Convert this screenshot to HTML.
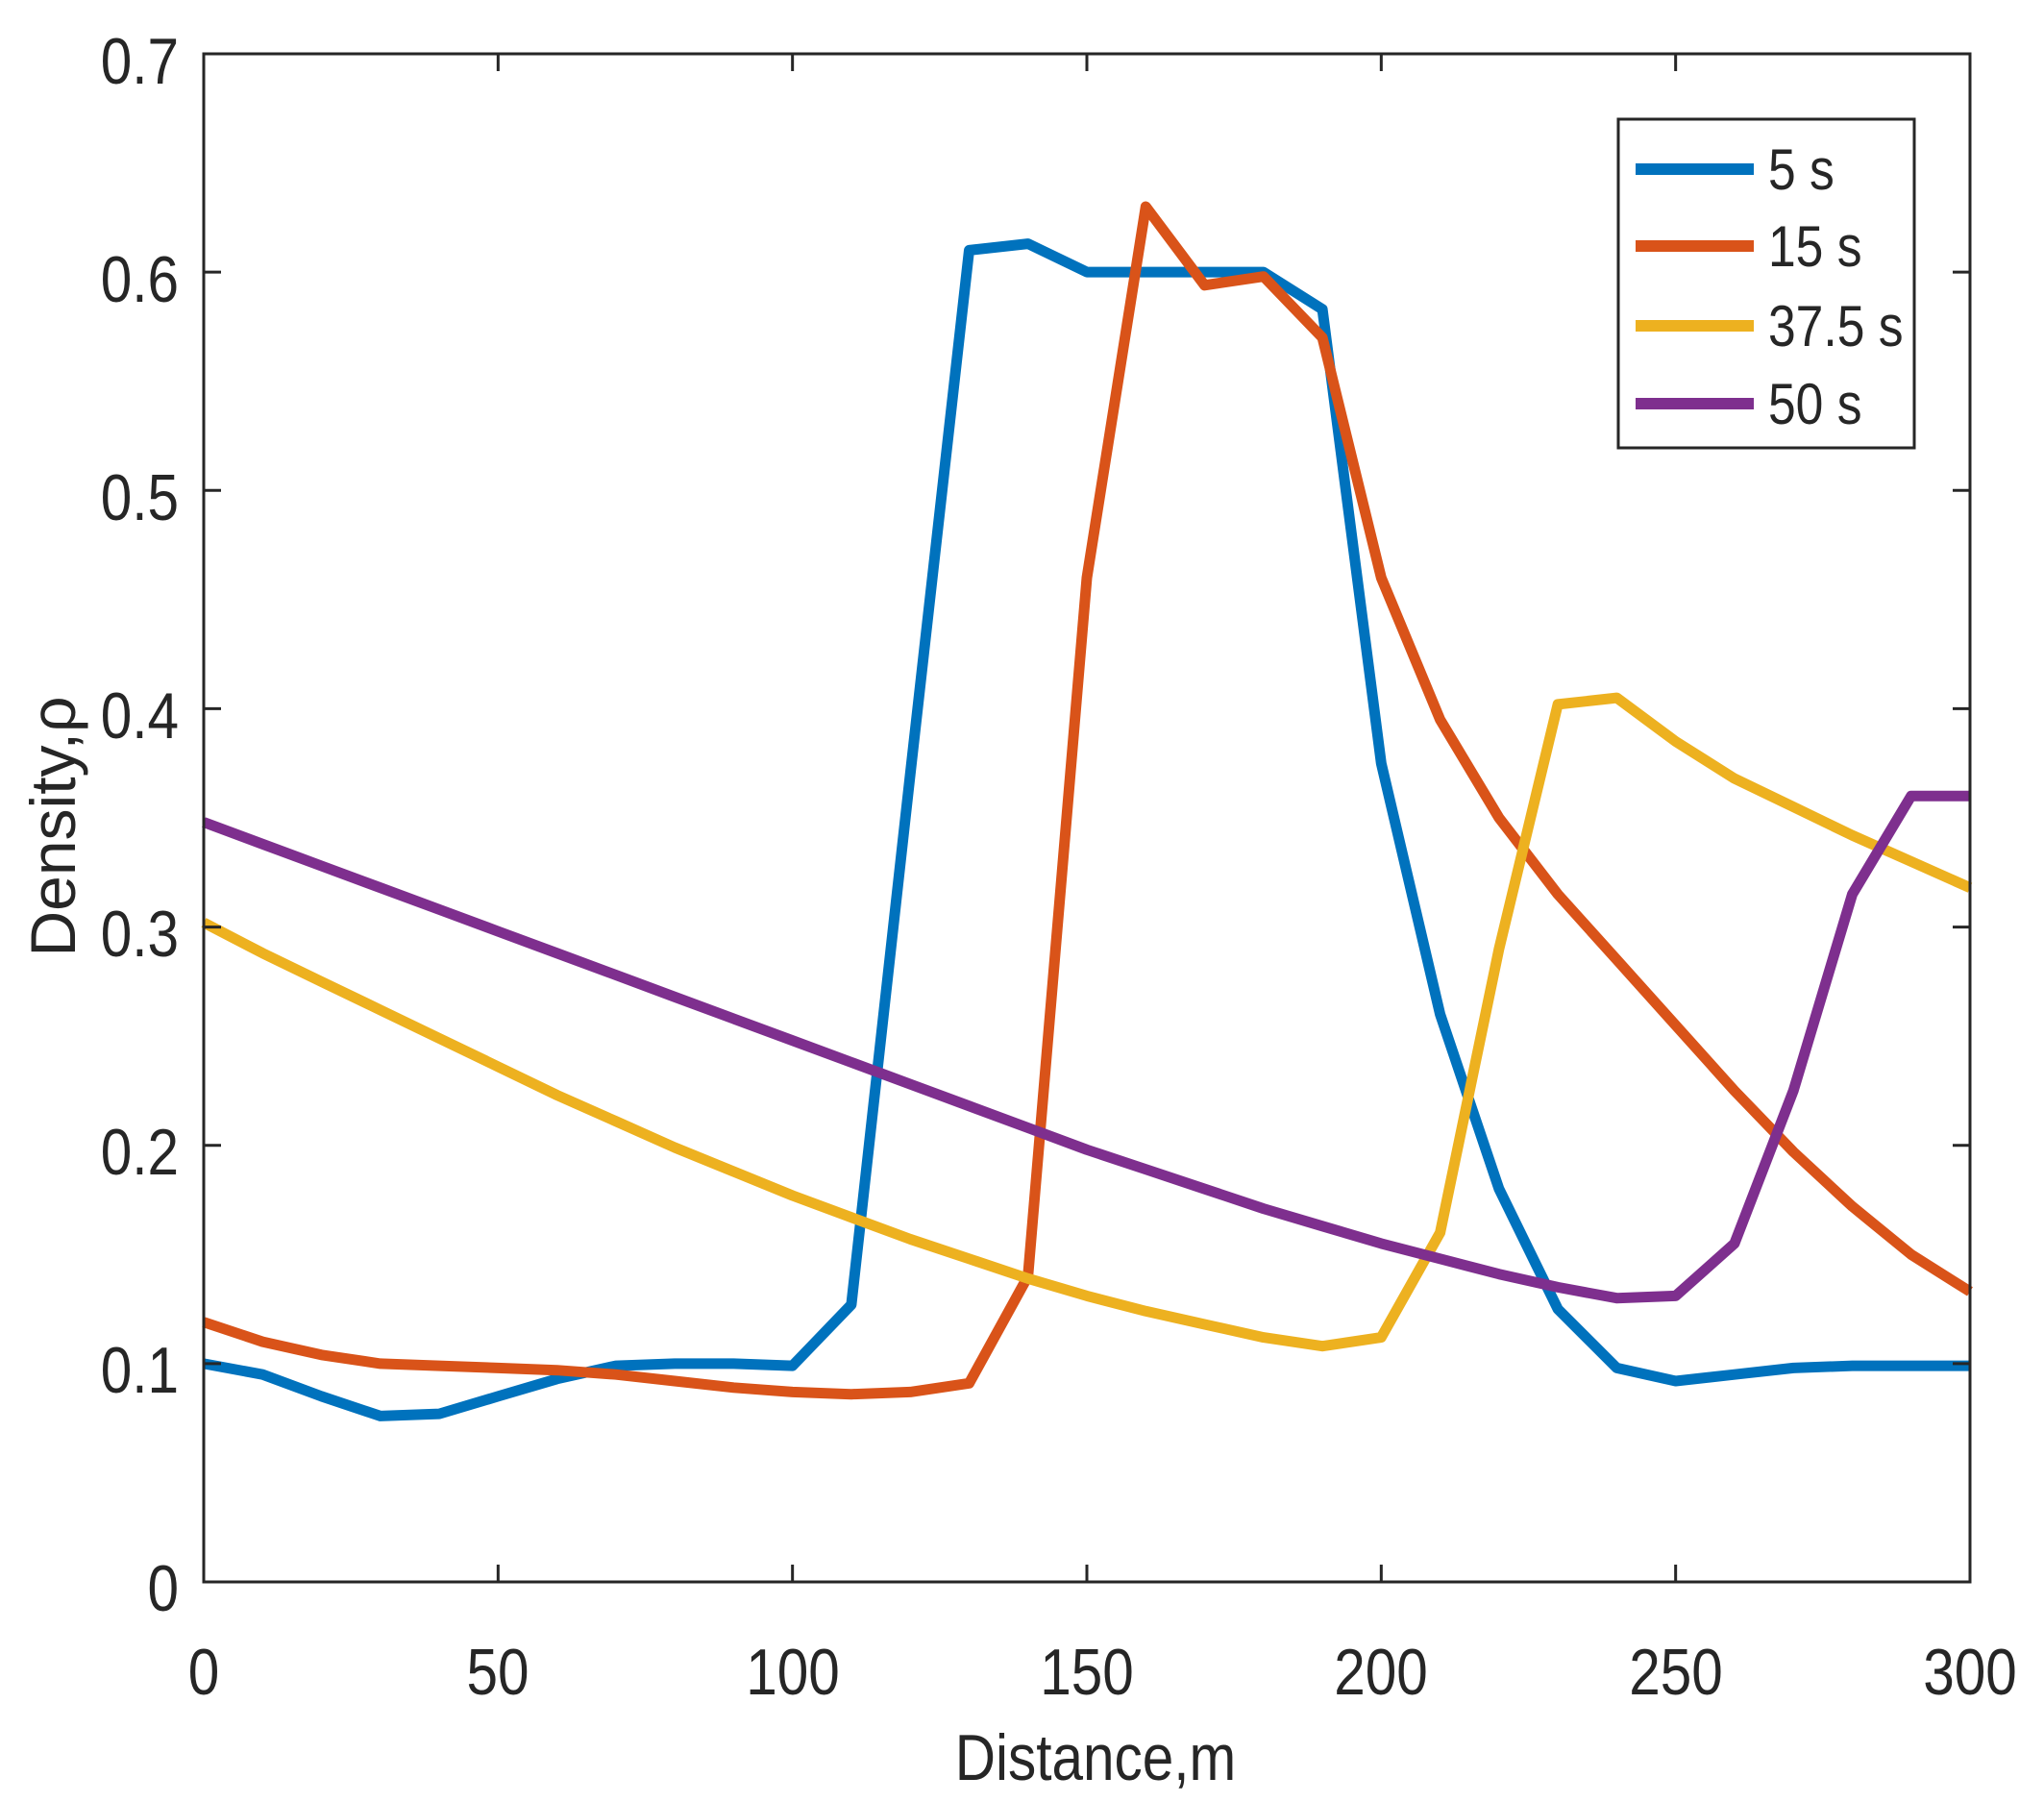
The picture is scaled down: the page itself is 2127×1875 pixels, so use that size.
<!DOCTYPE html>
<html><head><meta charset="utf-8"><style>
html,body{margin:0;padding:0;background:#fff;}
svg{display:block;}
text{font-family:"Liberation Sans",Arial,sans-serif;fill:#262626;}
.r text{transform-box:fill-box;transform:scaleX(0.86);transform-origin:right center;}
.c text{transform-box:fill-box;transform:scaleX(0.86);transform-origin:center center;}
.l text{transform-box:fill-box;transform:scaleX(0.86);transform-origin:left center;}
</style></head><body>
<svg id="s" width="2127" height="1875" viewBox="0 0 2127 1875" xmlns="http://www.w3.org/2000/svg">
<rect width="2127" height="1875" fill="#fff"/>
<g id="plot" fill="none" stroke-linejoin="round" stroke-width="11"></g>
<rect x="212" y="56" width="1838" height="1590" fill="none" stroke="#262626" stroke-width="3"/>
<g id="ticks" stroke="#262626" stroke-width="3"></g>
<g font-size="68" text-anchor="end" class="r">
<text x="186" y="1676">0</text>
<text x="186" y="1449">0.1</text>
<text x="186" y="1222">0.2</text>
<text x="186" y="995">0.3</text>
<text x="186" y="768">0.4</text>
<text x="186" y="541">0.5</text>
<text x="186" y="314">0.6</text>
<text x="186" y="87">0.7</text>
</g>
<g font-size="68" text-anchor="middle" class="c">
<text x="212" y="1763">0</text>
<text x="518" y="1763">50</text>
<text x="825" y="1763">100</text>
<text x="1131" y="1763">150</text>
<text x="1437" y="1763">200</text>
<text x="1744" y="1763">250</text>
<text x="2050" y="1763">300</text>
<text x="1140" y="1852">Distance,m</text>
</g>
<g transform="translate(78,860) rotate(-90)">
<text font-size="66" text-anchor="middle" x="0" y="0">Density,ρ</text>
</g>
<rect x="1684" y="124" width="308" height="342" fill="#fff" stroke="#262626" stroke-width="3"/>
<g stroke-width="12">
<line x1="1702" y1="176" x2="1825" y2="176" stroke="#0072BD"/>
<line x1="1702" y1="256" x2="1825" y2="256" stroke="#D95319"/>
<line x1="1702" y1="339" x2="1825" y2="339" stroke="#EDB120"/>
<line x1="1702" y1="420" x2="1825" y2="420" stroke="#7E2F8E"/>
</g>
<g font-size="60" class="l">
<text x="1840" y="197">5 s</text>
<text x="1840" y="277">15 s</text>
<text x="1840" y="360">37.5 s</text>
<text x="1840" y="441">50 s</text>
</g>
</svg>
<script>
var X=function(v){return 212+v/300*1838;},Y=function(v){return 1646-v/0.7*1590;};
var d={
"#0072BD":[0.1,0.095,0.085,0.076,0.077,0.085,0.093,0.099,0.1,0.1,0.099,0.127,0.37,0.61,0.613,0.6,0.6,0.6,0.6,0.583,0.375,0.26,0.18,0.125,0.098,0.092,0.095,0.098,0.099,0.099,0.099],
"#D95319":[0.119,0.11,0.104,0.1,0.099,0.098,0.097,0.095,0.092,0.089,0.087,0.086,0.087,0.091,0.14,0.46,0.63,0.594,0.598,0.57,0.46,0.395,0.35,0.315,0.285,0.255,0.225,0.197,0.172,0.15,0.133],
"#EDB120":[0.302,0.288,0.275,0.262,0.249,0.236,0.223,0.211,0.199,0.188,0.177,0.167,0.157,0.148,0.139,0.131,0.124,0.118,0.112,0.108,0.112,0.16,0.29,0.402,0.405,0.385,0.368,0.355,0.342,0.33,0.318],
"#7E2F8E":[0.348,0.338,0.328,0.318,0.308,0.298,0.288,0.278,0.268,0.258,0.248,0.238,0.228,0.218,0.208,0.198,0.189,0.18,0.171,0.163,0.155,0.148,0.141,0.135,0.13,0.131,0.155,0.225,0.315,0.36,0.36]};
var g=document.getElementById("plot"),ns="http://www.w3.org/2000/svg";
["#0072BD","#D95319","#EDB120","#7E2F8E"].forEach(function(c){var p=document.createElementNS(ns,"polyline");
p.setAttribute("points",d[c].map(function(v,i){return X(i*10).toFixed(1)+","+Y(v).toFixed(1);}).join(" "));
p.setAttribute("stroke",c);g.appendChild(p);});
var t=document.getElementById("ticks");
function L(a,b,c,e){var l=document.createElementNS(ns,"line");l.setAttribute("x1",a);l.setAttribute("y1",b);l.setAttribute("x2",c);l.setAttribute("y2",e);t.appendChild(l);}
for(var i=1;i<6;i++){var x=X(i*50);L(x,1646,x,1628);L(x,56,x,74);}
for(var j=1;j<7;j++){var y=Y(j*0.1);L(212,y,230,y);L(2050,y,2032,y);}
</script>
</body></html>
